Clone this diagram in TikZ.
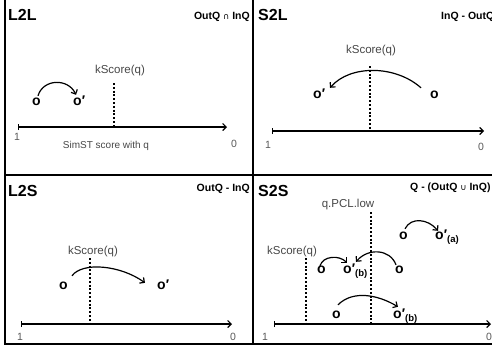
\documentclass[tikz,border=0pt]{standalone}
\usepackage{fontspec}
\setmainfont{Liberation Sans}
\newfontfamily\symfont{DejaVu Sans}
\usetikzlibrary{arrows.meta}
\newcommand{\subl}[1]{{\fontsize{9.5}{9.5}\selectfont\raisebox{-3.5pt}{#1}}}
\begin{document}
\begin{tikzpicture}[x=1pt,y=-1pt,
  frame/.style={line width=2pt,line cap=rect},
  title/.style={anchor=base west,inner sep=0,font=\fontsize{16}{16}\selectfont\bfseries},
  setlbl/.style={inner sep=0,font=\fontsize{10.5}{10.5}\selectfont\bfseries},
  thr/.style={anchor=base,inner sep=0,text=black!72,font=\fontsize{11.5}{11.5}\selectfont},
  tickno/.style={anchor=base,inner sep=0,text=black!65,font=\fontsize{10.5}{10.5}\selectfont},
  obj/.style={anchor=base west,inner sep=0,text height=7pt,text depth=0pt,font=\fontsize{14}{14}\selectfont\bfseries},
  axis/.style={line width=1.2pt,{Bar[width=6pt,line width=1.2pt]}-{Straight Barb[length=3.5pt,width=7pt,line width=1.2pt]}},
  cut/.style={line width=1.1pt,dash pattern=on 2pt off 1.8pt},
  hop/.style={line width=1.2pt,-{Straight Barb[length=3.5pt,width=7pt]}},
]
\useasboundingbox (0,0) rectangle (492,349);
\clip (0,0) rectangle (492,349);

% panel frames
\draw[frame] (5,-2) -- (5,344) -- (494,344);
\draw[frame] (253,-2) -- (253,344);
\draw[frame] (5,175) -- (494,175);

% ---------- L2L ----------
\node[title] (t1) at (8,20) {L2L};
\node[setlbl,anchor=base east] (s1) at (250,19) {OutQ {\symfont\mdseries\fontsize{8.5}{8.5}\selectfont ∩} InQ};
\node[thr] (k1) at (120,73) {kScore(q)};
\coordinate (k1top) at (114,83);
\coordinate (k1bot) at (114,127);
\draw[cut] (k1top) -- (k1bot);
\coordinate (a1s) at (18,127);
\coordinate (a1e) at (227,127);
\draw[axis] (a1s) -- (a1e);
\node[tickno] (one1) at (17,140) {1};
\node[tickno] (zero1) at (234,147) {0};
\node[anchor=base,inner sep=0,text=black!72,font=\fontsize{10}{10}\selectfont] (ax1) at (106,148) {SimST score with q};
\node[obj] (p1) at (32,105) {o};
\node[obj] (q1) at (73,105) {o′};
\draw[hop] ([shift={(6,-2)}]p1.north west) .. controls +(5,-17) and +(-8,-17) .. ([shift={(3,-3)}]q1.north west);

% ---------- S2L ----------
\node[title] (t2) at (258,20) {S2L};
\node[setlbl,anchor=base west] (s2) at (441,19) {InQ - OutQ};
\node[thr] (k2) at (371,53) {kScore(q)};
\coordinate (k2top) at (370,66);
\coordinate (k2bot) at (370,131);
\draw[cut] (k2top) -- (k2bot);
\coordinate (a2s) at (272,131);
\coordinate (a2e) at (484,131);
\draw[axis] (a2s) -- (a2e);
\node[tickno] (one2) at (268,148) {1};
\node[tickno] (zero2) at (481,150) {0};
\node[obj] (q2) at (313,98) {o′};
\node[obj] (p2) at (430,98) {o};
\draw[hop] ([shift={(-9,-3)}]p2.north west) .. controls +(-26,-23) and +(20,-23) .. ([shift={(17,-3)}]q2.north west);

% ---------- L2S ----------
\node[title] (t3) at (8,196) {L2S};
\node[setlbl,anchor=base east] (s3) at (250,191) {OutQ - InQ};
\node[thr] (k3) at (93,254) {kScore(q)};
\coordinate (k3top) at (90,258);
\coordinate (k3bot) at (90,324);
\draw[cut] (k3top) -- (k3bot);
\coordinate (a3s) at (21,324);
\coordinate (a3e) at (232,324);
\draw[axis] (a3s) -- (a3e);
\node[tickno] (one3) at (20,340) {1};
\node[tickno] (zero3) at (233,340) {0};
\node[obj] (p3) at (59,289) {o};
\node[obj] (q3) at (157,289) {o′};
\draw[hop] ([shift={(13,-6)}]p3.north west) .. controls +(10,-14) and +(-25,-18) .. ([shift={(-12,1)}]q3.north west);

% ---------- S2S ----------
\node[title] (t4) at (258,196) {S2S};
\node[setlbl,anchor=base west] (s4) at (410,190) {Q - (OutQ {\symfont\mdseries\fontsize{8.5}{8.5}\selectfont ∪} InQ)};
\node[thr] (k4a) at (348,207) {q.PCL.low};
\coordinate (k4atop) at (371,212);
\coordinate (k4abot) at (371,324);
\draw[cut] (k4atop) -- (k4abot);
\node[thr] (k4b) at (292,254) {kScore(q)};
\coordinate (k4btop) at (306,258);
\coordinate (k4bbot) at (306,324);
\draw[cut] (k4btop) -- (k4bbot);
\coordinate (a4s) at (274,324);
\coordinate (a4e) at (491,324);
\draw[axis] (a4s) -- (a4e);
\node[tickno] (one4) at (265,340) {1};
\node[tickno] (zero4) at (489,340) {0};
% objects above the lower bound
\node[obj] (p4) at (399,239) {o};
\node[obj] (q4) at (435,239) {o′\subl{(a)}};
\draw[hop] ([shift={(6,-3)}]p4.north west) .. controls +(6,-12) and +(-10,-12) .. ([shift={(3,-1)}]q4.north west);
% objects moving between the two thresholds
\node[obj] (p5) at (317,273) {o};
\node[obj] (q5) at (343,273) {o′\subl{(b)}};
\node[obj] (p6) at (395,273) {o};
\draw[hop] ([shift={(3,0)}]p5.north west) .. controls +(3,-10) and +(-8,-8) .. ([shift={(4,-3)}]q5.north west);
\draw[hop] ([shift={(1,-1)}]p6.north west) .. controls +(-6,-16) and +(12,-14) .. ([shift={(13,-4)}]q5.north west);
% object crossing the lower bound
\node[obj] (p7) at (332,318) {o};
\node[obj] (q7) at (393,318) {o′\subl{(b)}};
\draw[hop] ([shift={(6,-6)}]p7.north west) .. controls +(15,-15) and +(-20,-12) .. ([shift={(5,-4)}]q7.north west);
\end{tikzpicture}
\end{document}
